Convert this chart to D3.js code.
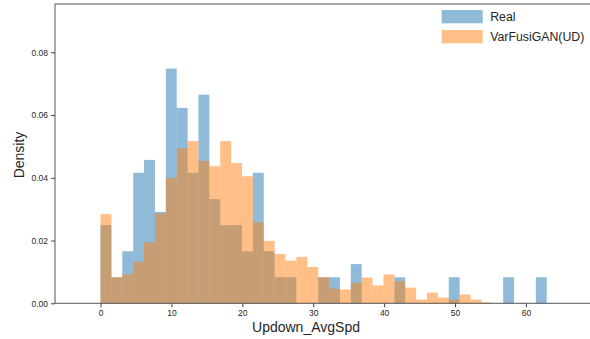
<!DOCTYPE html>
<html>
<head>
<meta charset="utf-8">
<script src="https://cdn.jsdelivr.net/npm/d3@7"></script>
<style>
  body { margin: 0; background: #fff; }
  text { font-family: "Liberation Sans", Arial, sans-serif; fill: #262626; }
</style>
</head>
<body>
<svg width="590" height="339"></svg>
<script>
// histogram bins start at 0, all the same width
const binStart = 0;
const binWidth = 1.535;

// density per bin
const realDensity = [
  0.0249, 0.0083, 0.0166, 0.0416, 0.0457, 0.0291, 0.0748, 0.0623, 0.0416, 0.0665,
  0.0332, 0.0249, 0.0249, 0.0166, 0.0416, 0.0166, 0.0083, 0.0083, 0, 0,
  0.0083, 0.0083, 0, 0.0125, 0, 0, 0, 0.0083, 0, 0,
  0, 0, 0.0083, 0, 0, 0, 0, 0.0083, 0, 0,
  0.0083
];
const genDensity = [
  0.0284, 0.0083, 0.0093, 0.0132, 0.0195, 0.0286, 0.0400, 0.0494, 0.0517, 0.0454,
  0.0437, 0.0517, 0.0447, 0.0405, 0.0258, 0.0199, 0.0157, 0.0136, 0.0148, 0.0116,
  0.0083, 0.0047, 0.0044, 0.0065, 0.0082, 0.0057, 0.0092, 0.0070, 0.0050, 0.0012,
  0.0034, 0.0018, 0.0012, 0.0028, 0.0012, 0.0003
];

const seriesNames = ["Real", "VarFusiGAN(UD)"];
const seriesColors = ["#1f77b4", "#ff7f0e"];
const xTicks = [0, 10, 20, 30, 40, 50, 60];
const yTicks = [0, 0.02, 0.04, 0.06, 0.08];

let svg = d3.select("svg");

let x = d3.scaleLinear().domain([-6.42, 70.45]).range([55, 600]);
let y = d3.scaleLinear().domain([0, 0.0954]).range([303.3, 4]);

function toBins(values) {
    return values.map(function (v, i) {
        return { x0: binStart + i * binWidth, x1: binStart + (i + 1) * binWidth, v: v };
    });
}

// bars: real first, generated on top, both half transparent
[realDensity, genDensity].forEach(function (vals, k) {
    svg.append("g")
        .selectAll("rect")
        .data(toBins(vals).filter(function (d) { return d.v > 0; }))
        .enter().append("rect")
        .attr("x", function (d) { return x(d.x0); })
        .attr("width", function (d) { return x(d.x1) - x(d.x0); })
        .attr("y", function (d) { return y(d.v); })
        .attr("height", function (d) { return y(0) - y(d.v); })
        .attr("fill", seriesColors[k])
        .attr("fill-opacity", 0.5);
});

// frame (right spine is cut off by the picture)
svg.append("rect")
    .attr("x", 55).attr("y", 4)
    .attr("width", 560).attr("height", 303.3 - 4)
    .attr("fill", "none")
    .attr("stroke", "#555")
    .attr("stroke-width", 1);

let xAxis = svg.append("g")
    .attr("transform", "translate(0," + y(0) + ")")
    .call(d3.axisBottom(x).tickValues(xTicks).tickSize(4).tickPadding(3));
let yAxis = svg.append("g")
    .attr("transform", "translate(" + x.range()[0] + ",0)")
    .call(d3.axisLeft(y).tickValues(yTicks).tickFormat(d3.format(".2f")).tickSize(4).tickPadding(3));

[xAxis, yAxis].forEach(function (a) {
    a.select(".domain").remove();
    a.selectAll("line").attr("stroke", "#444");
    a.selectAll("text")
        .style("font-family", '"Liberation Sans", Arial, sans-serif')
        .style("font-size", "8.5px")
        .attr("fill", "#262626");
});

svg.append("text")
    .attr("x", 306).attr("y", 332)
    .attr("text-anchor", "middle")
    .style("font-size", "14px")
    .text("Updown_AvgSpd");

svg.append("text")
    .attr("transform", "translate(23.5,155) rotate(-90)")
    .attr("text-anchor", "middle")
    .style("font-size", "14px")
    .text("Density");

// legend
let legend = svg.append("g").attr("transform", "translate(441.7,10)");
seriesNames.forEach(function (name, i) {
    legend.append("rect")
        .attr("x", 0).attr("y", i * 20)
        .attr("width", 41).attr("height", 13.3)
        .attr("fill", seriesColors[i])
        .attr("fill-opacity", 0.5);
    legend.append("text")
        .attr("x", 48.5).attr("y", i * 20 + 11)
        .style("font-size", "12.3px")
        .text(name);
});
</script>
</body>
</html>
